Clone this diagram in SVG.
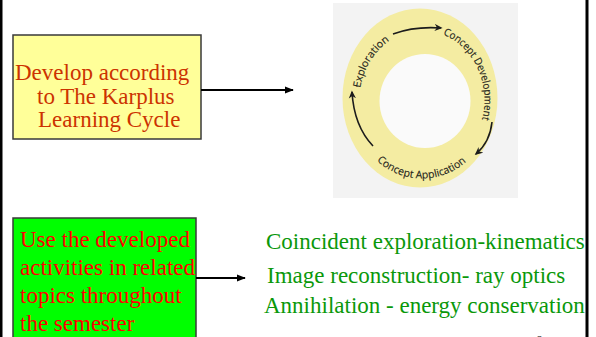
<svg xmlns="http://www.w3.org/2000/svg" width="596" height="337" viewBox="0 0 596 337">
  <style>
    .box-text { font-family: "Liberation Serif", "Times New Roman", serif; font-size: 23px; }
    .topic { font-family: "Liberation Serif", "Times New Roman", serif; font-size: 23px; fill: #0a980a; }
    .cycle-label { font-family: "Open Sans", "DejaVu Sans", sans-serif; font-size: 10.5px; fill: #24241a; stroke: #24241a; stroke-width: 0.15; }
    .connector { stroke: #000; stroke-width: 2; fill: none; }
    .cycle-arrow { stroke: #1c1c1c; stroke-width: 1.6; fill: none; }
  </style>
  <defs>
    <marker id="head" viewBox="0 0 10 10" refX="9" refY="5" markerWidth="4.5" markerHeight="4.5" orient="auto" markerUnits="strokeWidth">
      <path d="M0,1 L10,5 L0,9 z" fill="#000"/>
    </marker>
    <marker id="cycle-head" viewBox="0 0 10 10" refX="8" refY="5" markerWidth="5" markerHeight="5" orient="auto" markerUnits="strokeWidth">
      <path d="M0,0.5 L10,5 L0,9.5 L3,5 z" fill="#1c1c1c"/>
    </marker>
    <!-- clockwise ellipse, labels with tops facing outward -->
    <path id="ring-cw" d="M 359.5,100 A 62.5 69.5 0 1 1 484.5,100 A 62.5 69.5 0 1 1 359.5,100"/>
    <!-- lower half, left to right, labels with tops facing inward -->
    <path id="ring-ccw" d="M 350.5,100 A 71.5 78.5 0 0 0 493.5,100"/>
  </defs>

  <!-- page frame -->
  <rect x="0" y="0" width="2.5" height="337" fill="#000"/>
  <rect x="585.5" y="0" width="3" height="337" fill="#000"/>

  <!-- learning cycle graphic -->
  <g id="learning-cycle">
    <rect x="333" y="3" width="185" height="195" fill="#f3f3f3"/>
    <ellipse cx="420" cy="98" rx="77.5" ry="89.5" fill="#f4eca2"/>
    <ellipse cx="425" cy="101" rx="45.5" ry="47" fill="#fafafa"/>
    <text class="cycle-label"><textPath href="#ring-cw" startOffset="12" textLength="57" lengthAdjust="spacingAndGlyphs">Exploration</textPath></text>
    <text class="cycle-label"><textPath href="#ring-cw" startOffset="125" textLength="102" lengthAdjust="spacingAndGlyphs">Concept Development</textPath></text>
    <text class="cycle-label"><textPath href="#ring-ccw" startOffset="68" textLength="98" lengthAdjust="spacingAndGlyphs">Concept Application</textPath></text>
    <path class="cycle-arrow" d="M 393,34 Q 415,26 441,28" marker-end="url(#cycle-head)"/>
    <path class="cycle-arrow" d="M 492,122 Q 490,142 476,154" marker-end="url(#cycle-head)"/>
    <path class="cycle-arrow" d="M 373,146 Q 354,126 352,92" marker-end="url(#cycle-head)"/>
  </g>

  <!-- top-left node -->
  <g id="develop-node">
    <rect x="13" y="35" width="188" height="104" fill="#ffff99" stroke="#3a3a3a" stroke-width="1.5"/>
    <text class="box-text" fill="#cc3300">
      <tspan x="15" y="80">Develop according</tspan>
      <tspan x="37" y="103.5">to The Karplus</tspan>
      <tspan x="38" y="127">Learning Cycle</tspan>
    </text>
  </g>

  <!-- bottom-left node -->
  <g id="use-node">
    <rect x="13" y="218" width="183" height="130" fill="#00ff00" stroke="#3a3a3a" stroke-width="1.5"/>
    <text class="box-text" fill="#ff0000">
      <tspan x="20" y="247">Use the developed</tspan>
      <tspan x="20" y="275">activities in related</tspan>
      <tspan x="20" y="303">topics throughout</tspan>
      <tspan x="20" y="331">the semester</tspan>
    </text>
  </g>

  <!-- topics list -->
  <g id="topics-node">
    <text class="topic" x="266" y="249">Coincident exploration-kinematics</text>
    <text class="topic" x="267" y="283">Image reconstruction- ray optics</text>
    <text class="topic" x="264" y="313">Annihilation - energy conservation</text>
  </g>

  <!-- connectors -->
  <g id="connectors">
    <line class="connector" x1="201" y1="90" x2="293" y2="90" marker-end="url(#head)"/>
    <line class="connector" x1="196" y1="278" x2="245" y2="278" marker-end="url(#head)"/>
  </g>

  <!-- slide number, running off the lower edge -->
  <text x="536" y="344" font-family="Liberation Serif, serif" font-size="12" fill="#000">6</text>
</svg>
